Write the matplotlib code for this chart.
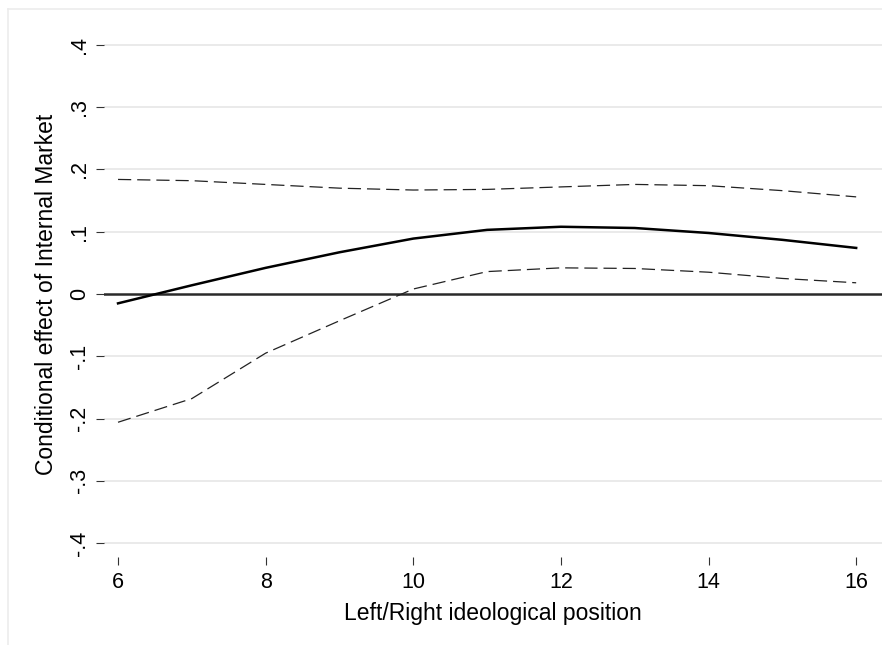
import matplotlib

matplotlib.use("Agg")
import matplotlib.pyplot as plt  # noqa: E402
from matplotlib.lines import Line2D  # noqa: E402

# Left/Right ideological position and conditional effect with 95% bounds
position = [6, 7, 8, 9, 10, 11, 12, 13, 14, 15, 16]
effect = [-0.015, 0.014, 0.042, 0.067, 0.089, 0.103, 0.108, 0.106, 0.098, 0.087, 0.074]
upper = [0.184, 0.182, 0.176, 0.170, 0.167, 0.168, 0.172, 0.176, 0.174, 0.166, 0.156]
lower = [-0.206, -0.168, -0.095, -0.043, 0.008, 0.036, 0.042, 0.041, 0.035, 0.025, 0.018]

yticks = [-0.4, -0.3, -0.2, -0.1, 0, 0.1, 0.2, 0.3, 0.4]
ytick_labels = ["-.4", "-.3", "-.2", "-.1", "0", ".1", ".2", ".3", ".4"]
xticks = [6, 8, 10, 12, 14, 16]

plt.rcParams.update({
    "font.family": ["Liberation Sans", "DejaVu Sans"],
    "font.size": 15.5,
    "lines.scale_dashes": False,
})

W, H = 882, 645
fig = plt.figure(figsize=(W / 100, H / 100), dpi=100)
fig.patch.set_facecolor("white")

# outer frame (top and left edges visible in the crop)
border = "#ececec"
fig.add_artist(Line2D([8 / W, 1], [1 - 9 / H, 1 - 9 / H], color=border, lw=1.2))
fig.add_artist(Line2D([8 / W, 8 / W], [0, 1 - 9 / H], color=border, lw=1.2))

left, right, top, bottom = 104, 882, 35, 553
ax = fig.add_axes([left / W, 1 - bottom / H, (right - left) / W, (bottom - top) / H])
ax.set_xlim(5.81, 16.35)
ax.set_ylim(-0.416, 0.416)

for y in yticks:
    if y != 0:
        ax.axhline(y, color="#eaeaea", lw=1.4, zorder=1)
ax.axhline(0, color="#2a2a2a", lw=1.8, zorder=2)

ax.plot(position, upper, color="#222222", lw=0.9, dashes=[9.5, 4.3], zorder=3)
ax.plot(position, lower, color="#222222", lw=0.9, dashes=[9.5, 4.3], zorder=3)
ax.plot(position, effect, color="black", lw=1.8, zorder=4)

for s in ax.spines.values():
    s.set_visible(False)

ax.set_yticks(yticks)
ax.set_yticklabels(ytick_labels, rotation=90, va="center")
ax.set_xticks(xticks)
ax.tick_params(axis="y", length=6, width=0.8, color="#333333", pad=4)
ax.tick_params(axis="x", length=6, width=0.8, color="#333333", pad=5)
# leave a small gap between plot region and x ticks, as Stata does
ax.spines["bottom"].set_position(("outward", 3))

ax.set_xlabel("Left/Right ideological position", fontsize=16.5, labelpad=6)
ax.set_ylabel("Conditional effect of Internal Market", fontsize=16.5, labelpad=8)

fig.savefig("out.png", dpi=100, facecolor="white")
